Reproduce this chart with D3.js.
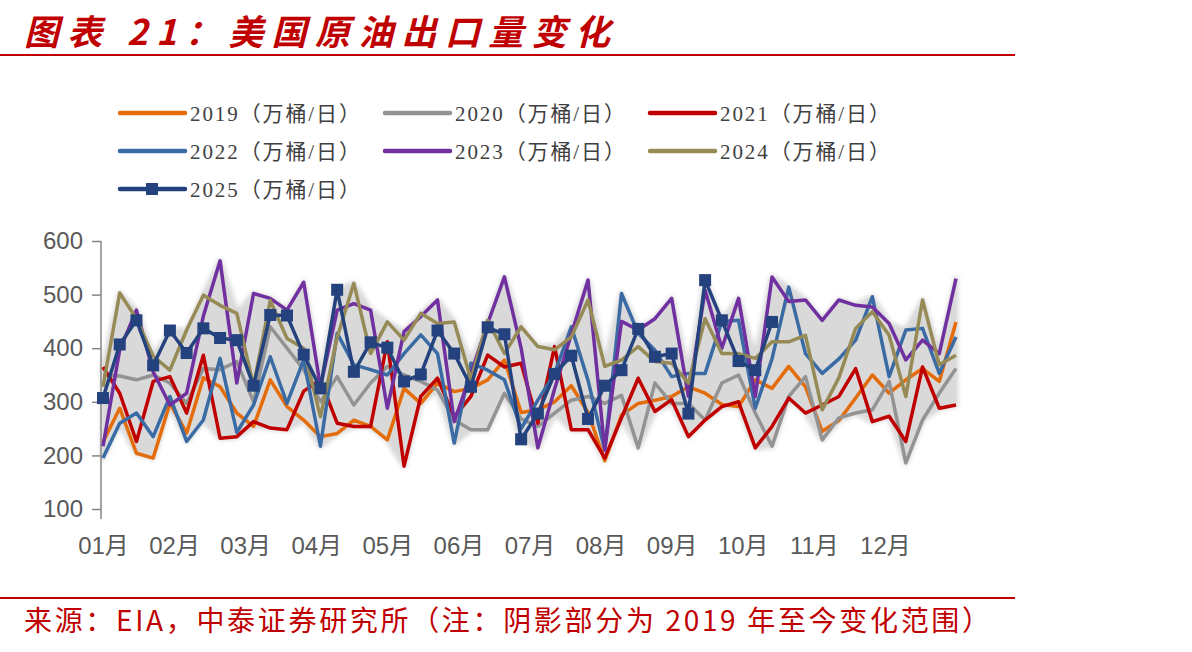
<!DOCTYPE html>
<html>
<head>
<meta charset="utf-8">
<script src="https://cdn.jsdelivr.net/npm/d3@7"></script>
<style>
  body { margin: 0; background: #fff; }
  svg { display: block; }
  .axis text { font-family: "Liberation Sans", "Noto Sans CJK SC", Arial, sans-serif; font-size: 24px; fill: #595959; }
  .legend text { font-family: "Liberation Serif", "Noto Sans CJK SC", serif; font-size: 21px; fill: #404040; }
</style>
</head>
<body>
<div id="chart"></div>
<script>
// weekly crude exports, 万桶/日, 52 weeks per year
const months = ["01月", "02月", "03月", "04月", "05月", "06月", "07月", "08月", "09月", "10月", "11月", "12月"];
const yTicks = [100, 200, 300, 400, 500, 600];

const s2019 = [225, 288, 204, 195, 297, 242, 345, 328, 279, 254, 341, 291, 266, 235, 241, 266, 254, 229, 325, 297,
  335, 319, 325, 341, 378, 280, 285, 300, 330, 280, 190, 275, 297, 303, 310, 328, 316, 295, 291, 341,
  325, 366, 328, 245, 265, 307, 350, 316, 341, 362, 338, 449];
const s2020 = [350, 348, 341, 350, 335, 297, 362, 360, 375, 300, 440, 400, 360, 300, 347, 294, 335, 366, 350, 338,
  322, 266, 248, 248, 316, 268, 254, 279, 303, 310, 297, 312, 214, 335, 297, 297, 266, 335, 350, 279,
  217, 310, 347, 229, 270, 279, 285, 338, 186, 266, 316, 362];
const s2021 = [365, 316, 226, 338, 347, 279, 387, 232, 235, 263, 251, 248, 320, 341, 260, 254, 254, 412, 180, 310,
  344, 272, 310, 387, 365, 372, 260, 403, 248, 248, 195, 270, 344, 282, 304, 235, 266, 291, 300, 214,
  254, 307, 279, 294, 310, 362, 263, 273, 226, 365, 288, 294];
const s2022 = [195, 260, 279, 235, 310, 226, 266, 381, 243, 294, 384, 297, 378, 217, 428, 369, 360, 350, 390, 425,
  390, 223, 372, 359, 341, 250, 303, 353, 440, 340, 210, 502, 428, 396, 347, 353, 353, 450, 452, 288,
  380, 514, 390, 353, 380, 415, 496, 347, 434, 437, 353, 421];
const s2023 = [217, 397, 471, 356, 294, 316, 460, 563, 335, 502, 493, 471, 523, 328, 471, 483, 471, 288, 431, 459,
  490, 263, 353, 446, 533, 400, 214, 324, 426, 527, 210, 450, 434, 455, 493, 310, 508, 400, 493, 310,
  533, 487, 490, 452, 490, 480, 477, 446, 378, 415, 390, 530];
const s2024 = [328, 503, 455, 385, 359, 434, 499, 480, 465, 330, 489, 418, 400, 272, 420, 521, 390, 449, 415, 465,
  446, 449, 341, 452, 390, 440, 403, 397, 421, 490, 366, 378, 403, 375, 372, 335, 455, 390, 390, 381,
  412, 412, 424, 285, 345, 437, 468, 424, 310, 490, 369, 387];
const s2025 = [307, 407, 452, 368, 433, 391, 437, 419, 415, 330, 462, 461, 388, 325, 509, 356, 411, 401, 338, 351,
  433, 390, 328, 439, 426, 230, 278, 352, 386, 268, 330, 359, 436, 384, 390, 278, 527, 452, 376, 359, 449];

const seriesNames = ["2019", "2020", "2021", "2022", "2023", "2024", "2025"];
const seriesValues = [s2019, s2020, s2021, s2022, s2023, s2024, s2025];
const colors = ["#e46c0a", "#939393", "#c00000", "#3b6ba4", "#7030a0", "#968b57", "#24427e"];

const W = 1192, H = 652;
const svg = d3.select("#chart").append("svg").attr("width", W).attr("height", H);

const x = d3.scaleLinear().domain([0, 51]).range([103, 956]);
const y = d3.scaleLinear().domain([100, 600]).range([509, 241]);

// title & rules
const red = "#c00000";
svg.append("text")
  .attr("x", 24).attr("y", 45)
  .attr("textLength", 586).attr("lengthAdjust", "spacing")
  .style("font-family", "'Noto Sans CJK SC', sans-serif")
  .style("font-size", "35px").style("font-weight", "bold").style("font-style", "italic")
  .style("fill", red)
  .text("图表 21：美国原油出口量变化");
svg.append("line").attr("x1", 0).attr("x2", 1015).attr("y1", 55).attr("y2", 55)
  .attr("stroke", red).attr("stroke-width", 2);
svg.append("line").attr("x1", 0).attr("x2", 1015).attr("y1", 598).attr("y2", 598)
  .attr("stroke", red).attr("stroke-width", 2);
svg.append("text")
  .attr("x", 24).attr("y", 631)
  .attr("textLength", 966).attr("lengthAdjust", "spacing")
  .style("font-family", "'Noto Sans CJK SC', 'Liberation Sans', sans-serif")
  .style("font-size", "28px")
  .style("fill", red)
  .text("来源：EIA，中泰证券研究所（注：阴影部分为 2019 年至今变化范围）");

// shaded range, min/max over all years for each week
const band = d3.range(52).map(function (i) {
  const vals = seriesValues.map(function (s) { return s[i]; }).filter(function (v) { return v !== undefined; });
  return { i: i, lo: d3.min(vals), hi: d3.max(vals) };
});
const defs = svg.append("defs");
defs.append("filter").attr("id", "soft")
  .append("feGaussianBlur").attr("stdDeviation", 2);

svg.append("path")
  .datum(band)
  .attr("fill", "#d9d9d9")
  .attr("stroke", "#d9d9d9")
  .attr("stroke-width", 5)
  .attr("stroke-linejoin", "round")
  .attr("filter", "url(#soft)")
  .attr("d", d3.area()
    .x(function (d) { return x(d.i); })
    .y0(function (d) { return y(d.lo); })
    .y1(function (d) { return y(d.hi); }));

// axes
const axisColor = "#868686";
const yAxis = svg.append("g").attr("class", "axis").attr("transform", "translate(101,0)")
  .call(d3.axisLeft(y).tickValues(yTicks).tickSize(9).tickPadding(9).tickFormat(d3.format("d")));
yAxis.select(".domain").attr("stroke", axisColor).attr("stroke-width", 1.5).attr("d", "M0,241V519");
yAxis.selectAll(".tick line").attr("stroke", axisColor).attr("stroke-width", 1.5);

const monthPos = months.map(function (m, k) { return k * 51 / 12; });
const xAxis = svg.append("g").attr("class", "axis").attr("transform", "translate(0,509)")
  .call(d3.axisBottom(x).tickValues(monthPos).tickSize(0).tickPadding(28)
    .tickFormat(function (d, k) { return months[k]; }));
xAxis.select(".domain").remove();

// lines
const line = d3.line()
  .x(function (d, i) { return x(i); })
  .y(function (d) { return y(d); });

seriesValues.forEach(function (s, k) {
  svg.append("path")
    .datum(s)
    .attr("fill", "none")
    .attr("stroke", colors[k])
    .attr("stroke-width", 3.5)
    .attr("stroke-linejoin", "round")
    .attr("d", line);
});

svg.append("g").selectAll("rect")
  .data(s2025)
  .enter().append("rect")
  .attr("x", function (d, i) { return x(i) - 6; })
  .attr("y", function (d) { return y(d) - 6; })
  .attr("width", 12).attr("height", 12)
  .attr("fill", colors[6]);

// legend
const legend = svg.append("g").attr("class", "legend");
const colX = [120, 385, 650], rowY = [113, 151, 189];
seriesNames.forEach(function (name, k) {
  const gx = colX[k % 3], gy = rowY[Math.floor(k / 3)];
  const g = legend.append("g").attr("transform", "translate(" + gx + "," + gy + ")");
  g.append("line").attr("x1", 0).attr("x2", 65).attr("y1", 0).attr("y2", 0)
    .attr("stroke", colors[k]).attr("stroke-width", 4.5).attr("stroke-linecap", "round");
  if (name === "2025") {
    g.append("rect").attr("x", 26).attr("y", -6).attr("width", 12).attr("height", 12).attr("fill", colors[k]);
  }
  g.append("text").attr("x", 70).attr("y", 8)
    .attr("textLength", 170).attr("lengthAdjust", "spacing")
    .text(name + "（万桶/日）");
});
</script>
</body>
</html>
